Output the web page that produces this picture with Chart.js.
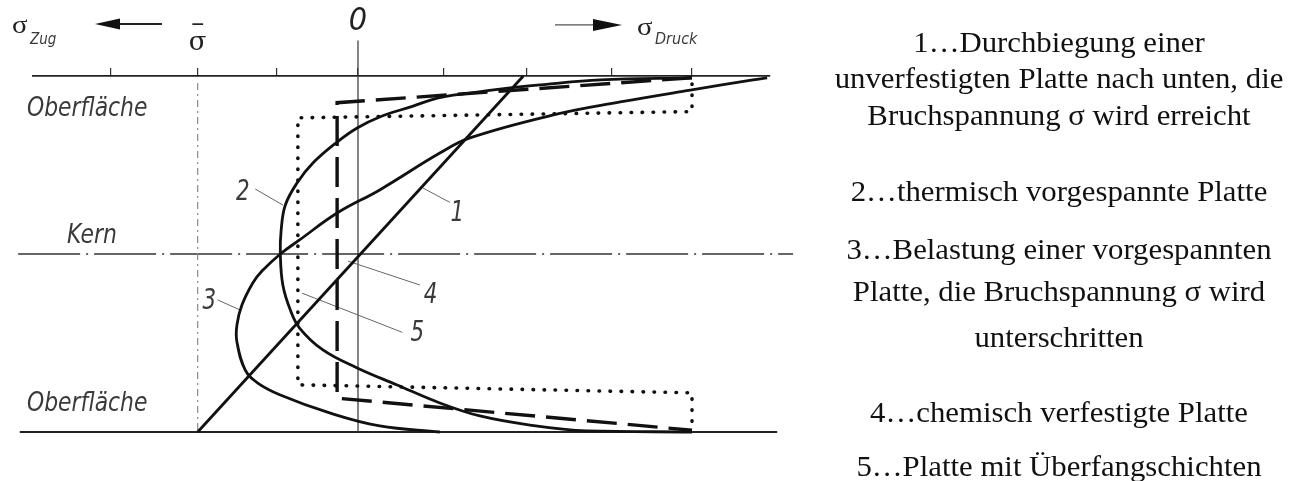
<!DOCTYPE html>
<html>
<head>
<meta charset="utf-8">
<script src="https://cdn.jsdelivr.net/npm/chart.js@4.4.1/dist/chart.umd.min.js"></script>
<style>
  html, body { margin: 0; padding: 0; background: #fff; overflow: hidden; }
  canvas { display: block; }
</style>
</head>
<body>
<canvas id="c" width="1300" height="481"></canvas>
<script>
// Stress across the plate thickness.
// x: stress in scale units (negative = Zug, positive = Druck), y: position (+1 upper surface, 0 core, -1 lower surface)
const tickValues = [-2.96, -1.92, -0.97, 0, 1.02, 2.02, 3.04, 4.0];
const sigmaBar = -1.92;

// 1: bending of an untreated plate (linear)
const curve1 = [[-1.92, -1.0], [1.98, 1.0]];

// 2: thermally tempered plate
const curve2 = [
  [4.0, 0.99], [2.90, 0.978], [2.18, 0.95], [1.82, 0.933], [1.34, 0.904], [0.95, 0.876],
  [0.66, 0.831], [0.26, 0.77], [-0.01, 0.708], [-0.25, 0.629], [-0.54, 0.511], [-0.73, 0.399],
  [-0.87, 0.275], [-0.92, 0.135], [-0.93, 0.0], [-0.90, -0.174], [-0.81, -0.315], [-0.70, -0.416],
  [-0.42, -0.539], [-0.01, -0.64], [0.47, -0.736], [0.98, -0.837], [1.46, -0.91], [2.06, -0.961],
  [2.74, -0.994], [4.0, -1.0]
];

// 3: tempered plate under load
const curve3 = [
  [4.90, 0.99], [4.73, 0.978], [3.98, 0.921], [3.14, 0.854], [2.34, 0.781], [1.34, 0.652],
  [0.98, 0.567], [0.26, 0.36], [-0.25, 0.23], [-0.70, 0.079], [-0.93, 0.0], [-1.15, -0.096],
  [-1.26, -0.163], [-1.39, -0.287], [-1.45, -0.399], [-1.45, -0.494], [-1.35, -0.652],
  [-1.20, -0.725], [-0.93, -0.792], [-0.34, -0.893], [0.26, -0.966], [0.98, -1.0]
];

// 4: chemically strengthened plate
const curve4 = [[4.0, 0.99], [-0.25, 0.85], [-0.25, -0.81], [4.0, -0.99]];

// 5: plate with cased (flashed) layers
const curve5 = [[4.0, 0.955], [4.0, 0.80], [-0.72, 0.765], [-0.72, -0.735], [4.0, -0.78], [4.0, -0.99]];

// reference lines
const kernLine = [[-4.07, 0], [5.21, 0]];
const bottomLine = [[-4.05, -1], [5.02, -1]];
const zeroLine = [[0, 1.2], [0, -1]];
const sigmaBarLine = [[-1.92, 0.96], [-1.92, -1]];

// curve numbers with their leader lines
const curveNumbers = ['1', '2', '3', '4', '5'];
const numberAnchors = [[1.19, 0.24], [-1.38, 0.36], [-1.78, -0.25], [0.87, -0.22], [0.71, -0.43]];
const leaderLines = [
  [[0.78, 0.37], [1.10, 0.29]],
  [[-1.23, 0.365], [-0.90, 0.275]],
  [[-1.68, -0.258], [-1.41, -0.315]],
  [[-0.12, -0.04], [0.74, -0.174]],
  [[-0.67, -0.22], [0.53, -0.44]]
];

const legendText = [
  '1…Durchbiegung einer',
  'unverfestigten Platte nach unten, die',
  'Bruchspannung σ wird erreicht',
  '2…thermisch vorgespannte Platte',
  '3…Belastung einer vorgespannten',
  'Platte, die Bruchspannung σ wird',
  'unterschritten',
  '4…chemisch verfestigte Platte',
  '5…Platte mit Überfangschichten'
];

const TECH_FONT = '"Liberation Sans Narrow", "DejaVu Sans Condensed", "DejaVu Sans", sans-serif';

function series(points, extra) {
  return Object.assign({
    data: points.map(([x, y]) => ({ x, y })),
    showLine: true,
    pointRadius: 0,
    pointHoverRadius: 0,
    borderColor: '#111',
    borderWidth: 2.8,
    tension: 0,
    fill: false,
    clip: false
  }, extra || {});
}

function drawText(ctx, text, x, y, font, align, sx, color) {
  ctx.save();
  ctx.translate(x, y);
  ctx.scale(sx, 1);
  ctx.font = font;
  ctx.textAlign = align;
  ctx.textBaseline = 'alphabetic';
  ctx.fillStyle = color;
  ctx.fillText(text, 0, 0);
  ctx.restore();
}

function arrow(ctx, x0, x1, tipX, baseX, y, half, width, color) {
  ctx.save();
  ctx.strokeStyle = color;
  ctx.fillStyle = '#111';
  ctx.lineWidth = width;
  ctx.beginPath();
  ctx.moveTo(x0, y);
  ctx.lineTo(x1, y);
  ctx.stroke();
  ctx.beginPath();
  ctx.moveTo(tipX, y);
  ctx.lineTo(baseX, y - half);
  ctx.lineTo(baseX, y + half);
  ctx.closePath();
  ctx.fill();
  ctx.restore();
}

const annotations = {
  id: 'annotations',
  afterDatasetsDraw(chart) {
    const { ctx } = chart;
    const xs = chart.scales.x, ys = chart.scales.y;
    const px = v => xs.getPixelForValue(v);
    const py = v => ys.getPixelForValue(v);
    const gray = '#3a3a3a';

    // direction captions above the axis
    drawText(ctx, 'σ', px(-4.144), py(1.242), '25px "Liberation Serif", serif', 'left', 1.15, '#222');
    drawText(ctx, 'Zug', px(-3.928), py(1.18), 'italic 15px ' + TECH_FONT, 'left', 1, gray);
    arrow(ctx, px(-2.347), px(-2.9), px(-3.15), px(-2.85), py(1.292), 5.5, 1.8, '#222');

    arrow(ctx, px(2.359), px(2.85), px(3.162), px(2.814), py(1.287), 6, 1.2, '#555');
    drawText(ctx, 'σ', px(3.341), py(1.23), '25px "Liberation Serif", serif', 'left', 1.15, '#222');
    drawText(ctx, 'Druck', px(3.557), py(1.18), 'italic 16px ' + TECH_FONT, 'left', 1, gray);

    // zone names
    drawText(ctx, 'Oberfläche', px(-3.964), py(0.775), 'italic 27px ' + TECH_FONT, 'left', 0.9, gray);
    drawText(ctx, 'Kern', px(-3.485), py(0.062), 'italic 27px ' + TECH_FONT, 'left', 0.9, gray);
    drawText(ctx, 'Oberfläche', px(-3.964), py(-0.882), 'italic 27px ' + TECH_FONT, 'left', 0.9, gray);

    // curve numbers
    curveNumbers.forEach((n, i) => {
      const [ax, ay] = numberAnchors[i];
      drawText(ctx, n, px(ax), py(ay) + 10, 'italic 28px ' + TECH_FONT, 'center', 0.85, gray);
    });

    // explanation block
    const baselines = [52, 88, 125, 201, 259, 301, 347, 422, 476];
    legendText.forEach((t, i) => {
      drawText(ctx, t, 1059, baselines[i], '28.5px "Liberation Serif", "Times New Roman", serif', 'center', 1.08, '#111');
    });
  }
};

new Chart(document.getElementById('c'), {
  type: 'scatter',
  data: {
    datasets: [
      series(curve3, { tension: 0.4 }),
      series(curve2, { tension: 0.4 }),
      series(curve1),
      series(curve4, { borderWidth: 3.4, borderDash: [30, 11], borderJoinStyle: 'miter' }),
      series(curve5, { borderWidth: 3.6, borderDash: [0.5, 10.5], borderCapStyle: 'round' }),
      ...leaderLines.map(l => series(l, { borderColor: '#666', borderWidth: 1 })),
      series(zeroLine, { borderColor: '#333', borderWidth: 1.2 }),
      series(bottomLine, { borderColor: '#222', borderWidth: 1.8 }),
      series(sigmaBarLine, { borderColor: '#8a8a8a', borderWidth: 1.2, borderDash: [7, 4, 2, 4] }),
      series(kernLine, { borderColor: '#333', borderWidth: 1.5, borderDash: [62, 6, 2, 6] })
    ]
  },
  options: {
    responsive: false,
    animation: false,
    devicePixelRatio: 1,
    events: [],
    layout: { padding: { left: 33, right: 530, top: 0, bottom: 49 } },
    plugins: { legend: { display: false }, tooltip: { enabled: false } },
    scales: {
      x: {
        type: 'linear',
        position: 'top',
        min: -3.892,
        max: 4.934,
        afterBuildTicks: s => { s.ticks = tickValues.map(v => ({ value: v })); },
        afterFit: s => { s.height = 76; },
        grid: { drawOnChartArea: false, drawTicks: true, tickLength: 8, color: '#333', lineWidth: 1.2 },
        border: { display: true, color: '#222', width: 1.8 },
        ticks: {
          autoSkip: false,
          maxRotation: 0,
          padding: 14.6,
          color: '#222',
          font: c => (c.tick && c.tick.value === 0)
            ? { family: TECH_FONT, size: 32, style: 'italic', lineHeight: 1.9625 }
            : { family: '"DejaVu Serif", serif', size: 26, lineHeight: 0.754 },
          callback: v => v === 0 ? '0' : (v === sigmaBar ? ['–', 'σ'] : '')
        }
      },
      y: { type: 'linear', display: false, min: -1, max: 1 }
    }
  },
  plugins: [annotations]
});
</script>
</body>
</html>
